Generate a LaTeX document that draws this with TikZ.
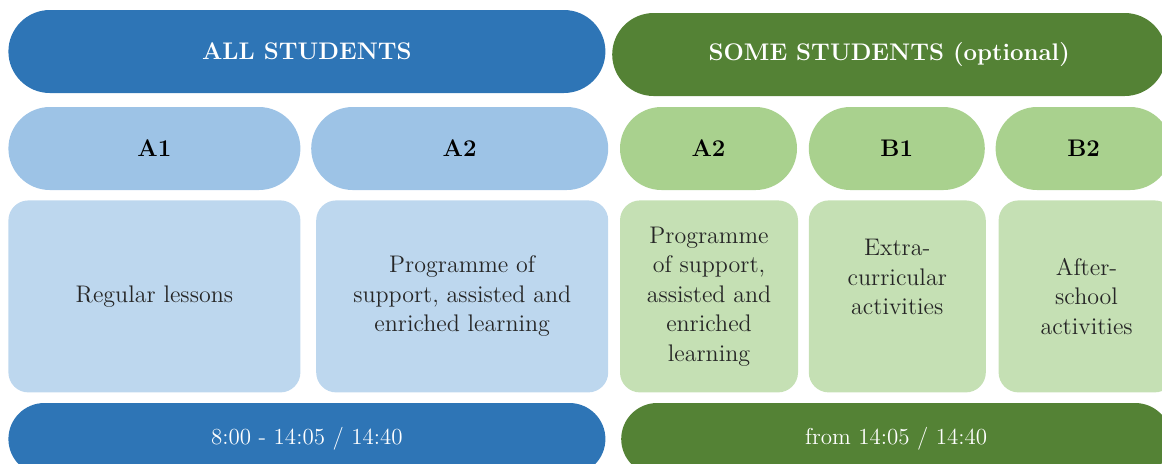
\documentclass[tikz,border=0pt]{standalone}
\usepackage{tikz}
\usetikzlibrary{positioning, shapes.misc}
\definecolor{allblue}{HTML}{2E75B6}
\definecolor{pillblue}{HTML}{9DC3E6}
\definecolor{boxblue}{HTML}{BDD7EE}
\definecolor{somegreen}{HTML}{548235}
\definecolor{pillgreen}{HTML}{A9D18E}
\definecolor{boxgreen}{HTML}{C5E0B4}
\tikzset{
	bar/.style={rounded rectangle, minimum width=298.5pt, minimum height=41.5pt, inner sep=0pt, text=white, font=\fontsize{12}{14}\selectfont\bfseries}, % the two group bars on top
	pill/.style={rounded rectangle, minimum height=41.5pt, inner sep=0pt, font=\fontsize{12}{14}\selectfont\bfseries}, % the A1, A2, B1, B2 labels
	contentbox/.style={rectangle, rounded corners=10pt, minimum height=96pt, inner sep=2pt, align=center, text=black!85, font=\fontsize{12}{14.75}\selectfont}, % what is offered
	timebar/.style={rounded rectangle, minimum height=36pt, inner sep=0pt, text=white, font=\fontsize{11.5}{14}\selectfont}, % times at the bottom
}
\begin{document}
\begin{tikzpicture}
	\useasboundingbox (0,0) rectangle (581pt,-231.5pt);
	\clip (0,0) rectangle (581pt,-231.5pt);
	% groups
	\node[bar, fill=allblue, anchor=west] (all) at (4pt,-25.75pt) {ALL STUDENTS};
	\node[bar, fill=somegreen, minimum width=277pt, right=3pt of all, yshift=-1.5pt] (some) {SOME STUDENTS (optional)};
	% labels
	\node[pill, fill=pillblue, minimum width=146pt, anchor=west] (a1) at (4pt,-74.25pt) {A1};
	\node[pill, fill=pillblue, minimum width=148.5pt, right=5pt of a1] (a2) {A2};
	\node[pill, fill=pillgreen, minimum width=88.5pt, right=5.5pt of a2] (a2opt) {A2};
	\node[pill, fill=pillgreen, minimum width=88pt, right=5.5pt of a2opt] (b1) {B1};
	\node[pill, fill=pillgreen, minimum width=88pt, right=5pt of b1] (b2) {B2};
	% contents
	\node[contentbox, fill=boxblue, minimum width=146pt, anchor=north west] (a1box) at (4pt,-100pt) {Regular lessons};
	\node[contentbox, fill=boxblue, minimum width=146pt, right=7.5pt of a1box] (a2box) {Programme of\\support, assisted and\\enriched learning};
	\node[contentbox, fill=boxgreen, minimum width=89pt, right=5.5pt of a2box] (a2optbox) {Programme\\of support,\\assisted and\\enriched\\learning};
	\node[contentbox, fill=boxgreen, minimum width=88.5pt, right=5pt of a2optbox] (b1box) {Extra-\\curricular\\activities\\\strut};
	\node[contentbox, fill=boxgreen, minimum width=88pt, right=6pt of b1box] (b2box) {After-\\school\\activities};
	% times
	\node[timebar, fill=allblue, minimum width=298.5pt, anchor=west] (alltime) at (4pt,-219.5pt) {8:00 - 14:05 / 14:40};
	\node[timebar, fill=somegreen, minimum width=275pt, right=7.5pt of alltime] (sometime) {from 14:05 / 14:40};
\end{tikzpicture}
\end{document}
